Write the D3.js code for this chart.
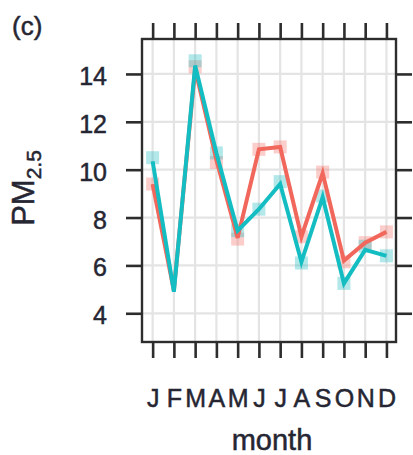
<!DOCTYPE html>
<html>
<head>
<meta charset="utf-8">
<script src="https://cdn.jsdelivr.net/npm/d3@7"></script>
<style>
  body { margin: 0; background: #fff; }
  svg { display: block; }
  text { font-family: "Liberation Sans", Arial, sans-serif; fill: #262633; }
</style>
</head>
<body>
<script>
// data
var monthLabels = ['J', 'F', 'M', 'A', 'M', 'J', 'J', 'A', 'S', 'O', 'N', 'D'];
var monthNums = [1, 2, 3, 4, 5, 6, 7, 8, 9, 10, 11, 12];
var redSeries = [9.4, 4.95, 14.2, 10.4, 7.15, 10.85, 10.95, 7.2, 9.85, 6.2, 6.95, 7.4];
var cyanSeries = [10.35, 4.9, 14.35, 10.7, 7.45, 8.35, 9.4, 6.15, 8.85, 5.25, 6.65, 6.4];
// faded square markers (none visible in February)
var redPoints = [9.4, null, 14.3, 10.3, 7.1, 10.85, 10.95, 7.2, 9.9, 6.15, 6.95, 7.4];
var cyanPoints = [10.5, null, 14.55, 10.7, 7.45, 8.35, 9.5, 6.1, 8.9, 5.25, 6.8, 6.4];
var yTicks = [4, 6, 8, 10, 12, 14];

var width = 413, height = 455;
var box = { left: 142, right: 396, top: 39, bottom: 342 };

var svg = d3.select('body').append('svg')
  .attr('width', width)
  .attr('height', height);

var x = d3.scaleLinear().domain([0.5, 12.45]).range([box.left, box.right]);
var y = d3.scaleLinear().domain([2.8, 15.46]).range([box.bottom, box.top]);

// grid
var grid = svg.append('g').attr('stroke', '#e4e4e4').attr('stroke-width', 2.2);
grid.selectAll('.vg').data(monthNums).enter().append('line')
  .attr('x1', d => x(d)).attr('x2', d => x(d))
  .attr('y1', box.top).attr('y2', box.bottom);
grid.selectAll('.hg').data(yTicks).enter().append('line')
  .attr('x1', box.left).attr('x2', box.right)
  .attr('y1', d => y(d)).attr('y2', d => y(d));

// points (faded squares)
var sq = 13;
function squares(vals, col) {
  var pts = vals.map((v, i) => ({ m: monthNums[i], v: v })).filter(d => d.v != null);
  svg.append('g').selectAll('rect').data(pts).enter().append('rect')
    .attr('x', d => x(d.m) - sq / 2)
    .attr('y', d => y(d.v) - sq / 2)
    .attr('width', sq).attr('height', sq)
    .attr('fill', col).attr('fill-opacity', 0.35);
}
squares(redPoints, '#f4736a');
squares(cyanPoints, '#22bcc2');

// lines
var line = d3.line()
  .x((d, i) => x(monthNums[i]))
  .y(d => y(d));

svg.append('path').datum(redSeries)
  .attr('d', line).attr('fill', 'none')
  .attr('stroke', '#f1675c').attr('stroke-width', 4)
  .attr('stroke-linejoin', 'miter');
svg.append('path').datum(cyanSeries)
  .attr('d', line).attr('fill', 'none')
  .attr('stroke', '#14bdc2').attr('stroke-width', 4)
  .attr('stroke-linejoin', 'miter');

// axes (ticks on all four sides, labels on left and bottom)
var tl = 16;
function styleAxis(g) {
  g.select('.domain').remove();
  g.selectAll('.tick line').attr('stroke', '#2d2d2d').attr('stroke-width', 2.6);
}
function styleText(sel, size) {
  sel.attr('font-size', size)
    .style('font-family', '"Liberation Sans", Arial, sans-serif')
    .attr('fill', '#262633')
    .attr('stroke', '#262633').attr('stroke-width', 0.5);
}

svg.append('g').attr('transform', 'translate(' + box.left + ',0)')
  .call(d3.axisLeft(y).tickValues(yTicks).tickSize(tl).tickPadding(18).tickFormat(d3.format('d')))
  .call(styleAxis)
  .call(g => styleText(g.selectAll('.tick text').attr('dy', '0.42em').attr('x', -35), 25));

svg.append('g').attr('transform', 'translate(' + box.right + ',0)')
  .call(d3.axisRight(y).tickValues(yTicks).tickSize(tl).tickFormat(''))
  .call(styleAxis);

svg.append('g').attr('transform', 'translate(0,' + box.bottom + ')')
  .call(d3.axisBottom(x).tickValues(monthNums).tickSize(tl).tickFormat((d, i) => monthLabels[i]))
  .call(styleAxis)
  .call(g => styleText(g.selectAll('.tick text').attr('y', 65).attr('dy', 0), 25));

svg.append('g').attr('transform', 'translate(0,' + box.top + ')')
  .call(d3.axisTop(x).tickValues(monthNums).tickSize(tl).tickFormat(''))
  .call(styleAxis);

// frame
svg.append('rect')
  .attr('x', box.left).attr('y', box.top)
  .attr('width', box.right - box.left).attr('height', box.bottom - box.top)
  .attr('fill', 'none').attr('stroke', '#2d2d2d').attr('stroke-width', 2.4);

// titles
styleText(svg.append('text').attr('x', 12).attr('y', 35).text('(c)'), 26);

styleText(svg.append('text')
  .attr('x', (box.left + box.right) / 2 + 3).attr('y', 450)
  .attr('text-anchor', 'middle')
  .text('month'), 29);

var ylab = svg.append('text')
  .attr('transform', 'translate(34,188) rotate(-90)')
  .attr('text-anchor', 'middle');
styleText(ylab, 31);
ylab.append('tspan').text('PM');
ylab.append('tspan').attr('font-size', 21).attr('dy', 7).text('2.5');
</script>
</body>
</html>
